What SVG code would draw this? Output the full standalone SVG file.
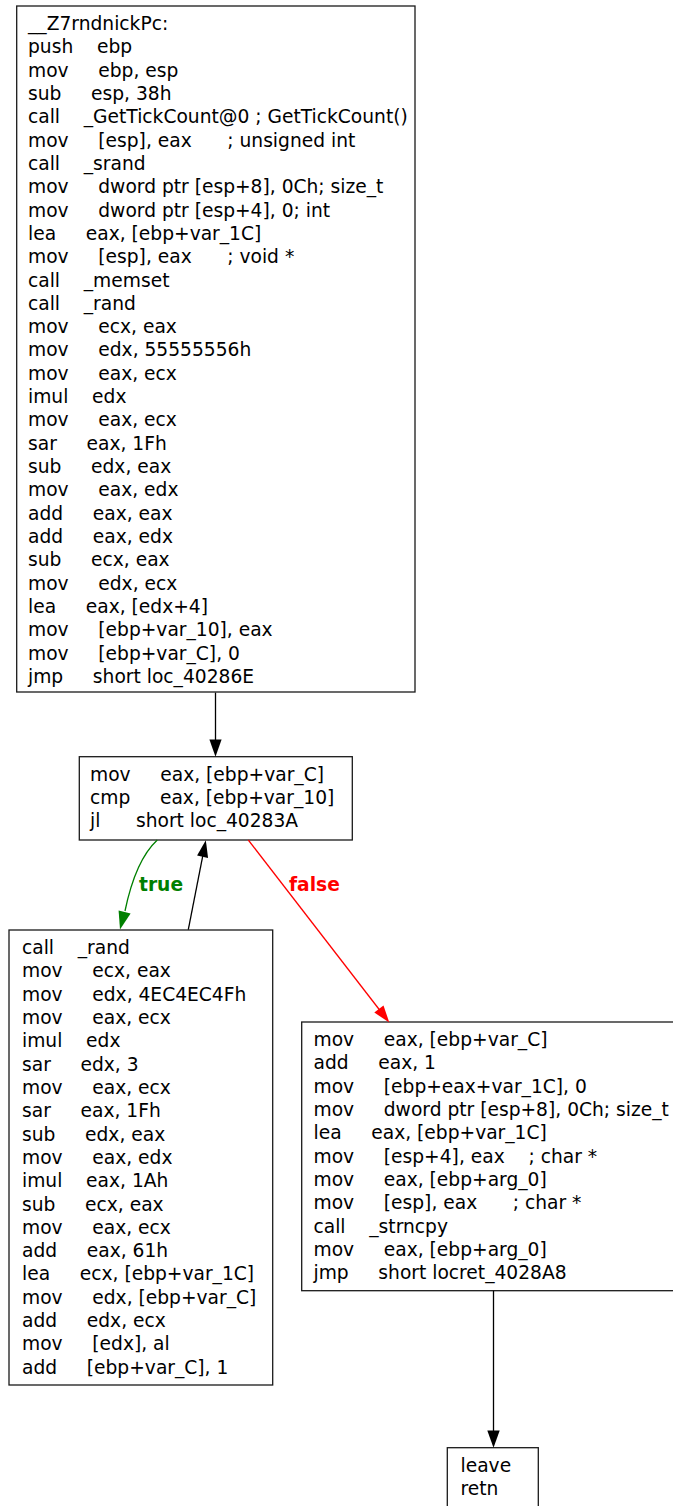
<svg xmlns="http://www.w3.org/2000/svg" width="673" height="1506" viewBox="0 0 673 1506" xml:space="preserve">
  <style>
    .blk { fill: #ffffff; stroke: #1a1a1a; stroke-width: 1.3; }
    .code { font-family: "DejaVu Sans", Verdana, sans-serif; font-size: 18.67px; fill: #000000; white-space: pre; }
    .edge { fill: none; stroke-width: 1.3; }
    .lbl { font-family: "DejaVu Sans", Verdana, sans-serif; font-size: 18.67px; font-weight: bold; }
  </style>
  <rect x="0" y="0" width="673" height="1506" fill="#ffffff"/>

  <!-- entry block -->
  <g id="blk_entry">
    <rect class="blk" x="16.7" y="6" width="398.3" height="686"/>
    <text class="code">
      <tspan x="28" y="30">__Z7rndnickPc:</tspan>
      <tspan x="28" y="53.32">push    ebp</tspan>
      <tspan x="28" y="76.64">mov     ebp, esp</tspan>
      <tspan x="28" y="99.96">sub     esp, 38h</tspan>
      <tspan x="28" y="123.28">call    _GetTickCount@0 ; GetTickCount()</tspan>
      <tspan x="28" y="146.6">mov     [esp], eax      ; unsigned int</tspan>
      <tspan x="28" y="169.92">call    _srand</tspan>
      <tspan x="28" y="193.24">mov     dword ptr [esp+8], 0Ch; size_t</tspan>
      <tspan x="28" y="216.56">mov     dword ptr [esp+4], 0; int</tspan>
      <tspan x="28" y="239.88">lea     eax, [ebp+var_1C]</tspan>
      <tspan x="28" y="263.2">mov     [esp], eax      ; void *</tspan>
      <tspan x="28" y="286.52">call    _memset</tspan>
      <tspan x="28" y="309.84">call    _rand</tspan>
      <tspan x="28" y="333.16">mov     ecx, eax</tspan>
      <tspan x="28" y="356.48">mov     edx, 55555556h</tspan>
      <tspan x="28" y="379.8">mov     eax, ecx</tspan>
      <tspan x="28" y="403.12">imul    edx</tspan>
      <tspan x="28" y="426.44">mov     eax, ecx</tspan>
      <tspan x="28" y="449.76">sar     eax, 1Fh</tspan>
      <tspan x="28" y="473.08">sub     edx, eax</tspan>
      <tspan x="28" y="496.4">mov     eax, edx</tspan>
      <tspan x="28" y="519.72">add     eax, eax</tspan>
      <tspan x="28" y="543.04">add     eax, edx</tspan>
      <tspan x="28" y="566.36">sub     ecx, eax</tspan>
      <tspan x="28" y="589.68">mov     edx, ecx</tspan>
      <tspan x="28" y="613">lea     eax, [edx+4]</tspan>
      <tspan x="28" y="636.32">mov     [ebp+var_10], eax</tspan>
      <tspan x="28" y="659.64">mov     [ebp+var_C], 0</tspan>
      <tspan x="28" y="682.96">jmp     short loc_40286E</tspan>
    </text>
  </g>

  <!-- loop condition -->
  <g id="blk_cond">
    <rect class="blk" x="79.3" y="756.7" width="273" height="83.3"/>
    <text class="code">
      <tspan x="90" y="780.7">mov     eax, [ebp+var_C]</tspan>
      <tspan x="90" y="804.02">cmp     eax, [ebp+var_10]</tspan>
      <tspan x="90" y="827.34">jl      short loc_40283A</tspan>
    </text>
  </g>

  <!-- loop body -->
  <g id="blk_body">
    <rect class="blk" x="9" y="930" width="263.7" height="455"/>
    <text class="code">
      <tspan x="22" y="954">call    _rand</tspan>
      <tspan x="22" y="977.32">mov     ecx, eax</tspan>
      <tspan x="22" y="1000.64">mov     edx, 4EC4EC4Fh</tspan>
      <tspan x="22" y="1023.96">mov     eax, ecx</tspan>
      <tspan x="22" y="1047.28">imul    edx</tspan>
      <tspan x="22" y="1070.6">sar     edx, 3</tspan>
      <tspan x="22" y="1093.92">mov     eax, ecx</tspan>
      <tspan x="22" y="1117.24">sar     eax, 1Fh</tspan>
      <tspan x="22" y="1140.56">sub     edx, eax</tspan>
      <tspan x="22" y="1163.88">mov     eax, edx</tspan>
      <tspan x="22" y="1187.2">imul    eax, 1Ah</tspan>
      <tspan x="22" y="1210.52">sub     ecx, eax</tspan>
      <tspan x="22" y="1233.84">mov     eax, ecx</tspan>
      <tspan x="22" y="1257.16">add     eax, 61h</tspan>
      <tspan x="22" y="1280.48">lea     ecx, [ebp+var_1C]</tspan>
      <tspan x="22" y="1303.8">mov     edx, [ebp+var_C]</tspan>
      <tspan x="22" y="1327.12">add     edx, ecx</tspan>
      <tspan x="22" y="1350.44">mov     [edx], al</tspan>
      <tspan x="22" y="1373.76">add     [ebp+var_C], 1</tspan>
    </text>
  </g>

  <!-- loop exit -->
  <g id="blk_exit">
    <rect class="blk" x="301.7" y="1022" width="390" height="268.7"/>
    <text class="code">
      <tspan x="313.5" y="1046">mov     eax, [ebp+var_C]</tspan>
      <tspan x="313.5" y="1069.32">add     eax, 1</tspan>
      <tspan x="313.5" y="1092.64">mov     [ebp+eax+var_1C], 0</tspan>
      <tspan x="313.5" y="1115.96">mov     dword ptr [esp+8], 0Ch; size_t</tspan>
      <tspan x="313.5" y="1139.28">lea     eax, [ebp+var_1C]</tspan>
      <tspan x="313.5" y="1162.6">mov     [esp+4], eax    ; char *</tspan>
      <tspan x="313.5" y="1185.92">mov     eax, [ebp+arg_0]</tspan>
      <tspan x="313.5" y="1209.24">mov     [esp], eax      ; char *</tspan>
      <tspan x="313.5" y="1232.56">call    _strncpy</tspan>
      <tspan x="313.5" y="1255.88">mov     eax, [ebp+arg_0]</tspan>
      <tspan x="313.5" y="1279.2">jmp     short locret_4028A8</tspan>
    </text>
  </g>

  <!-- epilogue -->
  <g id="blk_ret">
    <rect class="blk" x="447.3" y="1447.7" width="91" height="62"/>
    <text class="code">
      <tspan x="460.5" y="1471.7">leave</tspan>
      <tspan x="460.5" y="1495.02">retn</tspan>
    </text>
  </g>

  <!-- control-flow edges -->
  <g id="edges">
    <g id="e_entry_cond">
      <path class="edge" stroke="#000000" d="M215.5,692.6 V741"/>
      <polygon fill="#000000" points="215.5,756.7 209.4,739.6 221.6,739.6"/>
    </g>
    <g id="e_cond_body">
      <path class="edge" stroke="#008000" d="M157.3,840 C140,856 131,882 125,911"/>
      <polygon fill="#008000" points="120,929.5 118.6,910.4 130.6,913.4"/>
      <text class="lbl" fill="#008000" x="139" y="890.5">true</text>
    </g>
    <g id="e_body_cond">
      <path class="edge" stroke="#000000" d="M188.3,929.5 L202.9,855"/>
      <polygon fill="#000000" points="205.8,840.3 208.1,857.9 197.1,855.6"/>
    </g>
    <g id="e_cond_exit">
      <path class="edge" stroke="#ff0000" d="M248.3,840 L380,1010.5"/>
      <polygon fill="#ff0000" points="389.3,1022.5 383.5,1005.5 374.3,1012.6"/>
      <text class="lbl" fill="#ff0000" x="289" y="890.5">false</text>
    </g>
    <g id="e_exit_ret">
      <path class="edge" stroke="#000000" d="M493.5,1290.7 V1432"/>
      <polygon fill="#000000" points="493.5,1447.7 487.3,1430.5 499.7,1430.5"/>
    </g>
  </g>
</svg>
